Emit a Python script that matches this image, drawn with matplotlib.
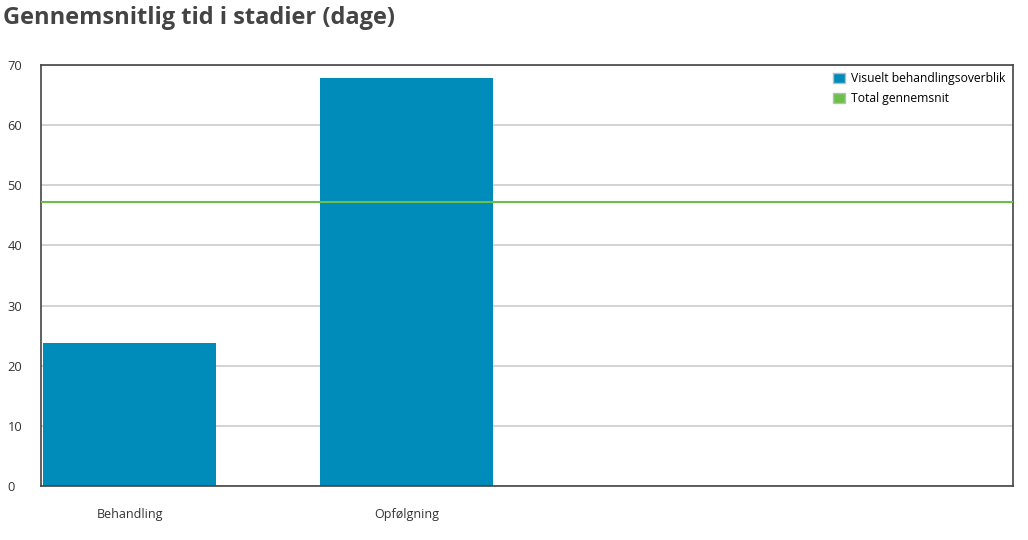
import matplotlib
matplotlib.use("Agg")
import matplotlib.pyplot as plt
from matplotlib.patches import Patch

categories = ["Behandling", "Opfølgning"]
values = [23.7, 67.8]
total_avg = 47.2
series_name = "Visuelt behandlingsoverblik"
avg_name = "Total gennemsnit"
yticks = [0, 10, 20, 30, 40, 50, 60, 70]

plt.rcParams['font.family'] = ['Open Sans', 'DejaVu Sans']

fig = plt.figure(figsize=(10.28, 5.4), dpi=100)
ax = fig.add_axes([0.0399, 0.1, 0.9455, 0.7796])

bar_color = "#008cba"
green = "#6cc04a"
x = list(range(len(categories)))
ax.bar(x, values, width=0.625, color=bar_color, zorder=2)
ax.axhline(total_avg, color=green, lw=1.5, zorder=3)

ax.set_xlim(-0.32, 3.188)
ax.set_ylim(0, 70)
ax.set_yticks(yticks)
ax.set_yticklabels([str(t) for t in yticks], fontsize=9.3, color="#333333")
ax.set_xticks(x)
ax.set_xticklabels(categories, fontsize=9, color="#333333")
ax.tick_params(axis="both", length=0)
ax.tick_params(axis="y", pad=24)
ax.tick_params(axis="x", pad=16)
for t in ax.get_yticklabels():
    t.set_horizontalalignment("left")
ax.yaxis.grid(True, color="#cccccc", lw=1.2, zorder=1)
for s in ax.spines.values():
    s.set_color("#444444")
    s.set_linewidth(1.2)

handles = [Patch(facecolor=bar_color, edgecolor="#bbbbbb", label=series_name),
           Patch(facecolor=green, edgecolor="#bbbbbb", label=avg_name)]
ax.legend(handles=handles, loc="upper right", frameon=False, fontsize=8.7,
          handlelength=0.95, handleheight=0.95, handletextpad=0.55,
          labelspacing=0.55, borderaxespad=0.2)

fig.text(0.003, 0.966, "Gennemsnitlig tid i stadier (dage)", fontsize=17,
         fontweight="bold", color="#444444", va="center", ha="left")

fig.savefig("out.png", dpi=100)
